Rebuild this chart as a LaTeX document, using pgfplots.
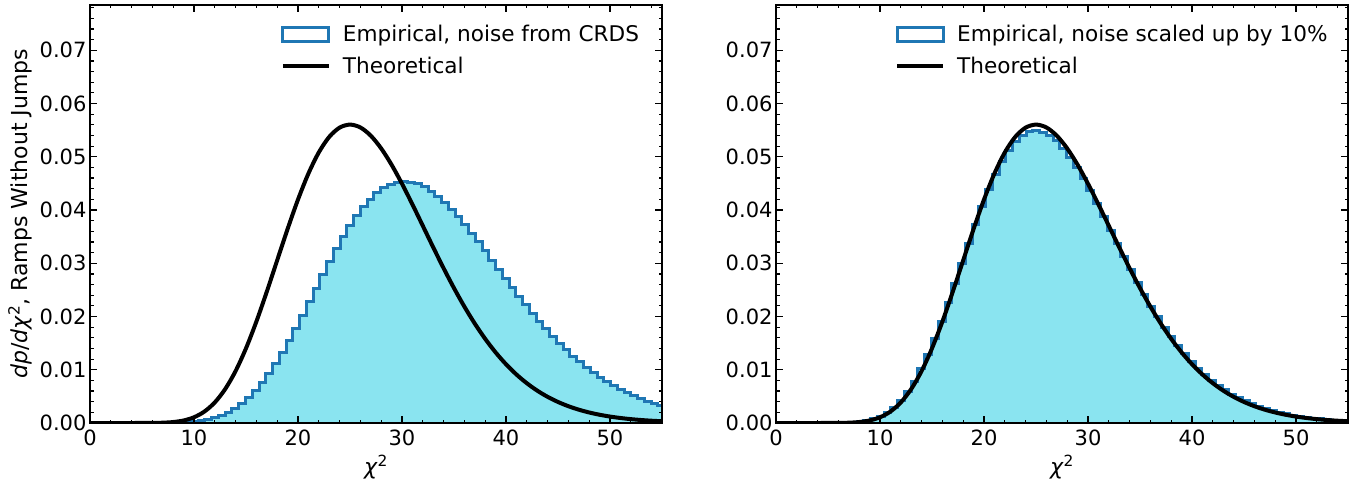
\documentclass[border=0pt]{standalone}
\usepackage{fontspec}
\setmainfont{DejaVu Sans}
\usepackage{pgfplots}
\usepackage{pgfplotstable}
\pgfplotsset{compat=1.18}
\definecolor{histblue}{RGB}{31,119,180}
\definecolor{histfill}{RGB}{138,228,240}

\pgfplotstableread{
x y
0 0
7.80 4.15e-5
8.45 8.07e-5
9.10 1.470e-4
9.75 2.528e-4
10.40 4.137e-4
11.05 6.477e-4
11.70 9.749e-4
12.35 1.4169e-3
13.00 1.9952e-3
13.65 2.7303e-3
14.30 3.6401e-3
14.95 4.740e-3
15.60 6.039e-3
16.25 7.542e-3
16.90 9.246e-3
17.55 1.1144e-2
18.20 1.3219e-2
18.85 1.5450e-2
19.50 1.7810e-2
20.15 2.0269e-2
20.80 2.2788e-2
21.45 2.5332e-2
22.10 2.7859e-2
22.75 3.0332e-2
23.40 3.2710e-2
24.05 3.4959e-2
24.70 3.7044e-2
25.35 3.8939e-2
26.00 4.0616e-2
26.65 4.2055e-2
27.30 4.3244e-2
27.95 4.4172e-2
28.60 4.4835e-2
29.25 4.5231e-2
29.90 4.5368e-2
30.55 4.5254e-2
31.20 4.4901e-2
31.85 4.4323e-2
32.50 4.3539e-2
33.15 4.2568e-2
33.80 4.1430e-2
34.45 4.0149e-2
35.10 3.8743e-2
35.75 3.7236e-2
36.40 3.5650e-2
37.05 3.4002e-2
37.70 3.2314e-2
38.35 3.0600e-2
39.00 2.8880e-2
39.65 2.7167e-2
40.30 2.5476e-2
40.95 2.3816e-2
41.60 2.2197e-2
42.25 2.0630e-2
42.90 1.9119e-2
43.55 1.7672e-2
44.20 1.6291e-2
44.85 1.4979e-2
45.50 1.3739e-2
46.15 1.2571e-2
46.80 1.1476e-2
47.45 1.0451e-2
48.10 9.498e-3
48.75 8.612e-3
49.40 7.793e-3
50.05 7.037e-3
50.70 6.342e-3
51.35 5.704e-3
52.00 5.121e-3
52.65 4.589e-3
53.30 4.105e-3
53.95 3.665e-3
54.60 3.267e-3
55.25 3.267e-3
}\histleft

\pgfplotstableread{
x y
0 0
6.50 5.78e-5
7.15 1.261e-4
7.80 2.511e-4
8.45 4.628e-4
9.10 7.985e-4
9.75 1.3013e-3
10.40 2.0168e-3
11.05 2.9911e-3
11.70 4.2651e-3
12.35 5.8718e-3
13.00 7.8325e-3
13.65 1.01533e-2
14.30 1.2825e-2
14.95 1.5819e-2
15.60 1.9092e-2
16.25 2.2586e-2
16.90 2.6232e-2
17.55 2.9947e-2
18.20 3.3651e-2
18.85 3.7257e-2
19.50 4.0687e-2
20.15 4.3862e-2
20.80 4.6715e-2
21.45 4.9192e-2
22.10 5.1249e-2
22.75 5.2857e-2
23.40 5.3998e-2
24.05 5.4668e-2
24.70 5.4876e-2
25.35 5.4642e-2
26.00 5.3992e-2
26.65 5.2959e-2
27.30 5.1585e-2
27.95 4.9915e-2
28.60 4.7994e-2
29.25 4.5867e-2
29.90 4.3581e-2
30.55 4.1180e-2
31.20 3.8705e-2
31.85 3.6193e-2
32.50 3.3680e-2
33.15 3.1193e-2
33.80 2.8759e-2
34.45 2.6402e-2
35.10 2.4134e-2
35.75 2.1971e-2
36.40 1.9927e-2
37.05 1.8004e-2
37.70 1.6208e-2
38.35 1.4540e-2
39.00 1.2999e-2
39.65 1.1584e-2
40.30 1.0290e-2
40.95 9.113e-3
41.60 8.046e-3
42.25 7.084e-3
42.90 6.219e-3
43.55 5.445e-3
44.20 4.755e-3
44.85 4.142e-3
45.50 3.598e-3
46.15 3.119e-3
46.80 2.697e-3
47.45 2.327e-3
48.10 2.003e-3
48.75 1.721e-3
49.40 1.475e-3
50.05 1.262e-3
50.70 1.077e-3
51.35 9.18e-4
52.00 7.81e-4
52.65 6.63e-4
53.30 5.61e-4
53.95 4.75e-4
54.60 4.01e-4
55.25 4.01e-4
}\histright

\pgfplotstableread{
x y
0 0
1 0
2 0
3 0
4 2.3e-7
5 2.26e-6
6 1.34e-5
7 5.58e-5
8 1.796e-4
9 4.749e-4
10 1.0750e-3
11 2.1467e-3
12 3.863e-3
13 6.373e-3
14 9.760e-3
15 1.4025e-2
16 1.9059e-2
17 2.4665e-2
18 3.0565e-2
19 3.6440e-2
20 4.1966e-2
21 4.684e-2
22 5.0815e-2
23 5.3725e-2
24 5.5468e-2
25 5.6042e-2
26 5.550e-2
27 5.3953e-2
28 5.1558e-2
29 4.849e-2
30 4.493e-2
31 4.1058e-2
32 3.7034e-2
33 3.2999e-2
34 2.9068e-2
35 2.5331e-2
36 2.1850e-2
37 1.8665e-2
38 1.580e-2
39 1.3259e-2
40 1.1036e-2
41 9.114e-3
42 7.471e-3
43 6.081e-3
44 4.916e-3
45 3.949e-3
46 3.152e-3
47 2.502e-3
48 1.974e-3
49 1.5495e-3
50 1.2098e-3
51 9.399e-4
52 7.267e-4
53 5.593e-4
54 4.285e-4
55 3.269e-4
}\theory

\pgfplotsset{
  chistyle/.style={
    scale only axis, width=572pt, height=418pt, anchor=south west,
    xmin=0, xmax=55, ymin=0, ymax=0.0785,
    xtick={0,10,20,30,40,50},
    ytick={0,0.01,0.02,0.03,0.04,0.05,0.06,0.07},
    minor xtick={0,2,...,54},
    minor ytick={0,0.002,...,0.078},
    scaled y ticks=false,
    yticklabel style={/pgf/number format/.cd, fixed, fixed zerofill, precision=2},
    xticklabel style={yshift=-3pt},
    /pgf/number format/assume math mode=true,
    tick align=inside, xtick pos=both, ytick pos=both,
    major tick length=7pt, minor tick length=3.5pt,
    tick style={line width=1.2pt, black},
    axis line style={line width=1.3pt},
    tick label style={font=\fontsize{21}{25}\selectfont},
    label style={font=\fontsize{22}{26}\selectfont},
    xlabel={\textit{χ}\textsuperscript{2}},
    xlabel style={at={(axis description cs:0.5,-0.105)}, anchor=center},
    axis on top,
    legend cell align=left,
    histentry/.style={legend image code/.code={%
      \draw[histblue, line width=3pt, fill=white] (0pt,-7pt) rectangle (46pt,7pt);
      \path[draw=none, fill=none] (0pt,0pt) -- (58pt,0pt);}},
    theoentry/.style={legend image code/.code={%
      \draw[black, line width=4pt] (0pt,0pt) -- (46pt,0pt);
      \path[draw=none, fill=none] (0pt,0pt) -- (58pt,0pt);}},
  }
}

\begin{document}
\begin{tikzpicture}
\begin{axis}[chistyle, at={(0pt,0pt)},
  ylabel={\textit{dp}/\textit{d}\textit{χ}\textsuperscript{2}, Ramps Without Jumps},
  ylabel style={at={(axis description cs:-0.1224,0.5)}, anchor=center},
  legend style={at={(0.3283,0.962)}, anchor=north west, draw=none, fill=none,
    font=\fontsize{21.6}{25}\selectfont, row sep=10pt},
]
\addplot[const plot mark left, fill=histfill, draw=none, forget plot] table[x=x,y=y] {\histleft} \closedcycle;
\addplot[const plot mark left, draw=histblue, line width=3pt, histentry]
  table[x=x,y=y] {\histleft};
\addlegendentry{Empirical, noise from CRDS}
\addplot[black, line width=4pt, smooth, theoentry]
  table[x=x,y=y] {\theory};
\addlegendentry{Theoretical}
\end{axis}

\begin{axis}[chistyle, at={(686pt,0pt)},
  legend style={at={(0.2028,0.962)}, anchor=north west, draw=none, fill=none,
    font=\fontsize{21.6}{25}\selectfont, row sep=10pt},
]
\addplot[const plot mark left, fill=histfill, draw=none, forget plot] table[x=x,y=y] {\histright} \closedcycle;
\addplot[const plot mark left, draw=histblue, line width=3pt, histentry]
  table[x=x,y=y] {\histright};
\addlegendentry{Empirical, noise scaled up by 10\%}
\addplot[black, line width=4pt, smooth, theoentry]
  table[x=x,y=y] {\theory};
\addlegendentry{Theoretical}
\end{axis}
\pgfresetboundingbox
\path[use as bounding box] (-90pt,-59pt) rectangle (1274pt,423pt);
\end{tikzpicture}
\end{document}
